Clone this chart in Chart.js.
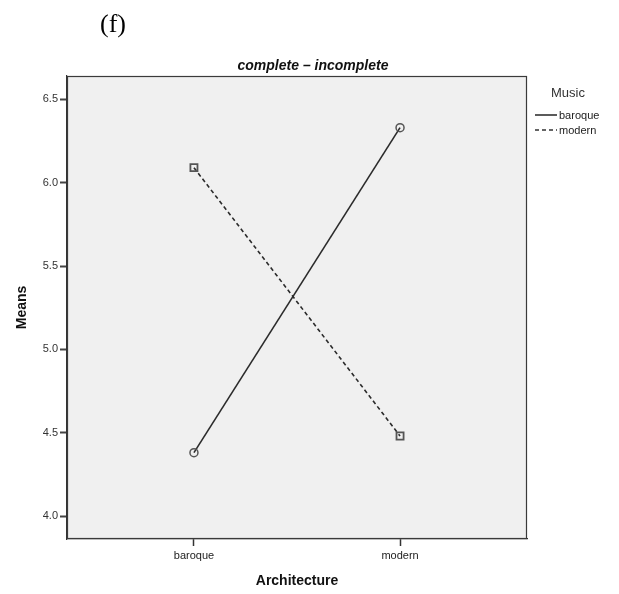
<!DOCTYPE html>
<html>
<head>
<meta charset="utf-8">
<script src="https://cdn.jsdelivr.net/npm/chart.js@4.4.1/dist/chart.umd.min.js"></script>
<style>
  html, body { margin: 0; padding: 0; background: #fff; }
  #wrap { position: relative; width: 619px; height: 594px; }
</style>
</head>
<body>
<div id="wrap"><canvas id="c" width="619" height="594"></canvas></div>
<script>
const panelLabel = "(f)";
const chartTitle = "complete \u2013 incomplete";
const categories = ["baroque", "modern"];          // Architecture
const baroqueMusic = [4.38, 6.33];                  // Music = baroque
const modernMusic = [6.09, 4.48];                   // Music = modern
const yTickValues = [4.0, 4.5, 5.0, 5.5, 6.0, 6.5];
const legendTitle = "Music";
const seriesNames = ["baroque", "modern"];
const xTitle = "Architecture";
const yTitle = "Means";

const toPoints = arr => arr.map((v, i) => ({ x: i, y: v }));

const frame = {
  id: 'frame',
  beforeDraw(chart) {
    const { ctx, chartArea: a } = chart;
    ctx.save();
    ctx.fillStyle = '#f0f0f0';
    ctx.fillRect(a.left, a.top, a.right - a.left, a.bottom - a.top);
    ctx.restore();
  },
  afterDraw(chart) {
    const { ctx, chartArea: a } = chart;
    ctx.save();
    ctx.strokeStyle = '#3a3a3a';
    ctx.lineWidth = 1.2;
    ctx.strokeRect(a.left + 0.5, a.top + 0.5, a.right - a.left - 1, a.bottom - a.top - 1);
    // panel label
    ctx.fillStyle = '#000';
    ctx.font = '26px "Liberation Serif", "Times New Roman", serif';
    ctx.textBaseline = 'alphabetic';
    ctx.textAlign = 'left';
    ctx.fillText(panelLabel, 100, 32);
    // title
    ctx.font = 'italic bold 14px "Liberation Sans", Arial, sans-serif';
    ctx.textAlign = 'center';
    ctx.fillStyle = '#111';
    ctx.fillText(chartTitle, 313, 70);
    // legend
    ctx.font = '13px "Liberation Sans", Arial, sans-serif';
    ctx.fillStyle = '#333';
    ctx.textAlign = 'left';
    ctx.fillText(legendTitle, 551, 97);
    ctx.font = '11px "Liberation Sans", Arial, sans-serif';
    ctx.fillStyle = '#222';
    const ys = [115, 130];
    chart.data.datasets.forEach((ds, i) => {
      ctx.beginPath();
      ctx.strokeStyle = '#333';
      ctx.lineWidth = 1.6;
      ctx.setLineDash(ds.borderDash || []);
      ctx.moveTo(535, ys[i]);
      ctx.lineTo(557, ys[i]);
      ctx.stroke();
      ctx.setLineDash([]);
      ctx.textBaseline = 'middle';
      ctx.fillText(seriesNames[i], 559, ys[i] + 0.5);
    });
    ctx.restore();
  }
};

new Chart(document.getElementById('c'), {
  type: 'line',
  data: {
    datasets: [
      {
        label: seriesNames[0],
        data: toPoints(baroqueMusic),
        borderColor: '#2b2b2b',
        borderWidth: 1.6,
        pointStyle: 'circle',
        pointRadius: 4,
        pointBorderWidth: 1.5,
        pointBorderColor: '#555',
        pointBackgroundColor: 'rgba(0,0,0,0)'
      },
      {
        label: seriesNames[1],
        data: toPoints(modernMusic),
        borderColor: '#2b2b2b',
        borderWidth: 1.6,
        borderDash: [4, 3],
        pointStyle: 'rect',
        pointRadius: 5,
        pointBorderWidth: 1.8,
        pointBorderColor: '#555',
        pointBackgroundColor: 'rgba(0,0,0,0)'
      }
    ]
  },
  options: {
    responsive: false,
    animation: false,
    devicePixelRatio: 1,
    layout: { padding: { left: 0, top: 76, right: 92, bottom: 0 } },
    plugins: { legend: { display: false }, tooltip: { enabled: false } },
    scales: {
      x: {
        type: 'linear',
        min: -0.616,
        max: 1.616,
        afterBuildTicks: s => { s.ticks = categories.map((c, i) => ({ value: i })); },
        afterFit: s => { s.height = 55; },
        ticks: {
          callback: v => categories[v],
          color: '#222',
          font: { family: '"Liberation Sans", Arial, sans-serif', size: 11 },
          padding: 3,
          maxRotation: 0
        },
        grid: { drawOnChartArea: false, tickLength: 7, color: '#333', tickColor: '#333', tickWidth: 1.5 },
        border: { display: true, color: '#333', width: 1.2 },
        title: {
          display: true, text: xTitle, color: '#111',
          font: { family: '"Liberation Sans", Arial, sans-serif', size: 14, weight: 'bold' },
          padding: { top: 0, bottom: 4 }
        }
      },
      y: {
        type: 'linear',
        min: 3.862,
        max: 6.64,
        afterBuildTicks: s => { s.ticks = yTickValues.map(v => ({ value: v })); },
        afterFit: s => { s.width = 67; },
        ticks: {
          callback: v => Number(v).toFixed(1),
          color: '#333',
          font: { family: '"Liberation Sans", Arial, sans-serif', size: 11 },
          padding: 2
        },
        grid: { drawOnChartArea: false, tickLength: 7, color: '#333', tickColor: '#444', tickWidth: 2 },
        border: { display: true, color: '#333', width: 1.2 },
        title: {
          display: true, text: yTitle, color: '#111',
          font: { family: '"Liberation Sans", Arial, sans-serif', size: 14, weight: 'bold' },
          padding: { top: 14, bottom: 0 }
        }
      }
    }
  },
  plugins: [frame]
});
</script>
</body>
</html>
